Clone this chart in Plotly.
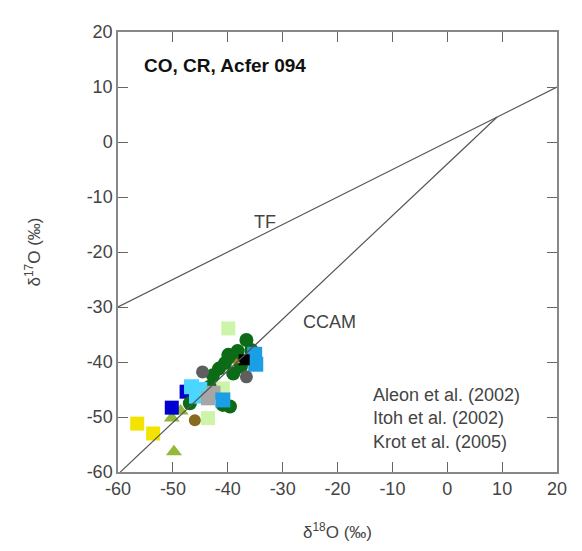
import plotly.graph_objects as go

# Oxygen three-isotope data (per mil), grouped by marker style
yellow_sq_x = [-56.5, -53.6]
yellow_sq_y = [-51.2, -53.0]

yg_tri_x = [-49.8, -48.6, -50.2]
yg_tri_y = [-56.3, -48.9, -50.2]

olive_circ_x = [-46.0]
olive_circ_y = [-50.6]

dkblue_sq_x = [-50.2, -47.5]
dkblue_sq_y = [-48.3, -45.4]

dkgreen_circ_x = [-36.6, -39.9, -40.5, -39.1, -35.7, -39.0, -42.7, -43.3,
                  -39.6, -40.9, -46.9, -37.6, -41.6, -38.2]
dkgreen_circ_y = [-36.0, -38.7, -40.2, -39.0, -37.8, -42.1, -42.4, -44.5,
                  -48.1, -47.8, -47.5, -40.8, -41.2, -38.0]

cyan_sq_x = [-46.6, -45.7, -45.1]
cyan_sq_y = [-44.5, -46.2, -45.0]

ltgray_sq_x = [-43.6, -42.6]
ltgray_sq_y = [-46.6, -45.6]

palegreen_sq_x = [-39.9, -40.9, -43.6]
palegreen_sq_y = [-33.9, -44.8, -50.2]

blue_sq_x = [-35.1, -34.9, -40.9]
blue_sq_y = [-38.6, -40.4, -46.9]

black_sq_x = [-37.0]
black_sq_y = [-39.6]

dkgray_circ_x = [-36.6, -44.6]
dkgray_circ_y = [-42.7, -41.8]

orange_tri_x = [-38.4]
orange_tri_y = [-39.9]

# Reference lines: terrestrial fractionation and carbonaceous chondrite anhydrous mineral
tf_x = [-60, 20]
tf_slope = 0.5
ccam_slope, ccam_icpt = 0.94, -4.0
ccam_x = [-59.6, ccam_icpt / (tf_slope - ccam_slope)]

ticks = [-60, -50, -40, -30, -20, -10, 0, 10, 20]
refs = ["Aleon et al. (2002)", "Itoh et al. (2002)", "Krot et al. (2005)"]

fig = go.Figure()


def add_points(x, y, color, symbol, size, name):
    fig.add_trace(go.Scatter(
        x=x, y=y, mode="markers", name=name, showlegend=False,
        marker=dict(color=color, symbol=symbol, size=size, line=dict(width=0)),
    ))


add_points(yellow_sq_x, yellow_sq_y, "#f2e400", "square", 14, "yellow")
add_points(yg_tri_x, yg_tri_y, "#94b83a", "triangle-up", 14, "yellow-green")
add_points(palegreen_sq_x, palegreen_sq_y, "#cdf5aa", "square", 14, "pale green")
add_points(dkblue_sq_x, dkblue_sq_y, "#0000d0", "square", 14, "dark blue")
add_points(dkgreen_circ_x, dkgreen_circ_y, "#0b6b16", "circle", 14, "dark green")
add_points(cyan_sq_x, cyan_sq_y, "#4ad6ff", "square", 15, "cyan")
add_points(ltgray_sq_x, ltgray_sq_y, "#a6a6a6", "square", 14, "light gray")
add_points(olive_circ_x, olive_circ_y, "#876a1f", "circle", 12, "olive")
add_points(blue_sq_x, blue_sq_y, "#1a9fe4", "square", 15, "blue")
add_points(black_sq_x, black_sq_y, "#000000", "square", 11, "black")
add_points(dkgray_circ_x, dkgray_circ_y, "#5e5e5e", "circle", 13, "dark gray")
add_points(orange_tri_x, orange_tri_y, "#b27b22", "triangle-up", 7, "orange")

fig.add_trace(go.Scatter(
    x=tf_x, y=[tf_slope * v for v in tf_x], mode="lines", showlegend=False,
    line=dict(color="#555555", width=1.2), name="TF"))
fig.add_trace(go.Scatter(
    x=ccam_x, y=[ccam_slope * v + ccam_icpt for v in ccam_x], mode="lines",
    showlegend=False, line=dict(color="#555555", width=1.2), name="CCAM"))

font_main = "Arial, Liberation Sans, sans-serif"
annotations = [
    dict(x=-33.3, y=-14.5, text="TF", showarrow=False,
         font=dict(size=18, color="#444444", family=font_main)),
    dict(x=-21.5, y=-32.7, text="CCAM", showarrow=False,
         font=dict(size=18, color="#444444", family=font_main)),
    dict(x=-55.6, y=14.0, text="<b>CO, CR, Acfer 094</b>", showarrow=False,
         xanchor="left", yanchor="middle",
         font=dict(size=19, color="#111111", family=font_main)),
]
for i, r in enumerate(refs):
    annotations.append(dict(
        x=-13.9, y=-46.0 - 4.25 * i, text=r, showarrow=False,
        xanchor="left", yanchor="middle",
        font=dict(size=18, color="#444444", family=font_main)))

axis_common = dict(
    range=[-60, 20], tickvals=ticks, ticktext=[str(t) for t in ticks],
    ticks="inside", ticklen=10, tickwidth=1.2, tickcolor="#666666",
    showline=True, linecolor="#888888", linewidth=1.5, mirror="ticks",
    showgrid=False, zeroline=False,
    tickfont=dict(size=18, color="#444444", family=font_main),
)

fig.update_layout(
    width=582, height=551,
    margin=dict(l=118, r=25, t=32, b=79),
    paper_bgcolor="white", plot_bgcolor="white",
    xaxis=dict(**axis_common,
               title=dict(text="δ<sup>18</sup>O (‰)", standoff=28,
                          font=dict(size=17, color="#444444", family=font_main))),
    yaxis=dict(**axis_common,
               title=dict(text="δ<sup>17</sup>O (‰)", standoff=42,
                          font=dict(size=17, color="#444444", family=font_main))),
    annotations=annotations,
)

fig.write_html("out.html")
